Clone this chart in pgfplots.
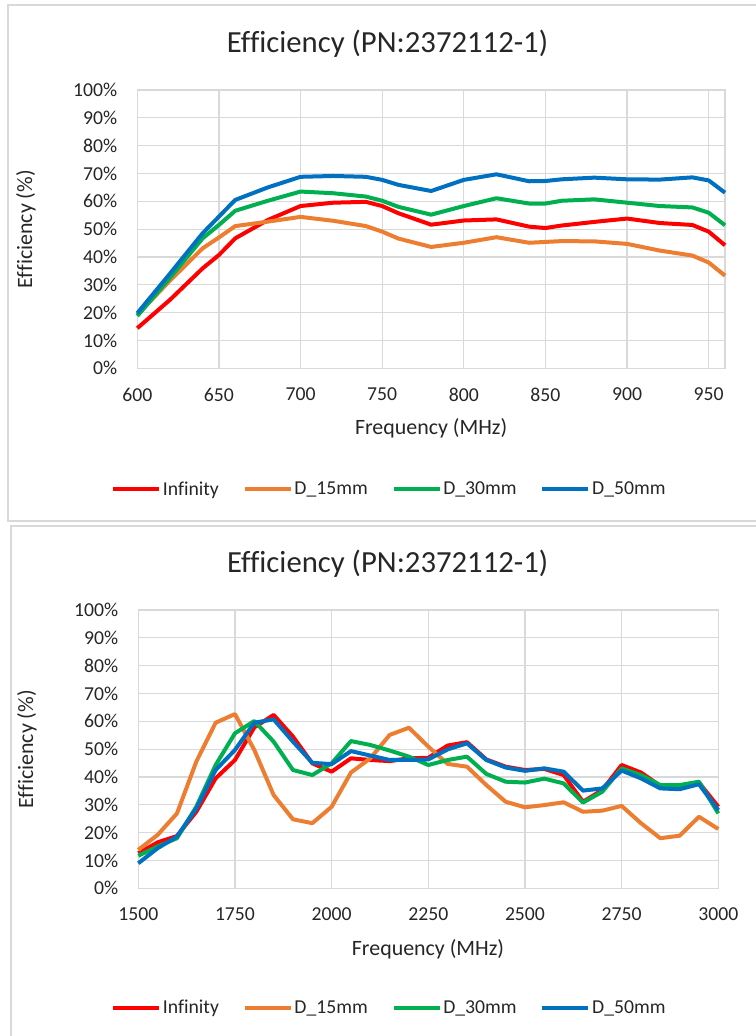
\documentclass[border=0pt]{standalone}
\usepackage{pgfplots}
\usepackage{pgfplotstable}
\pgfplotsset{compat=1.18}
\usepackage{fontspec}
\setmainfont{Carlito}[Ligatures={NoCommon}]
\definecolor{cInf}{HTML}{FF0000}
\definecolor{cDa}{HTML}{ED7D31}
\definecolor{cDb}{HTML}{00B050}
\definecolor{cDc}{HTML}{0070C0}
\definecolor{gridc}{HTML}{D9D9D9}
\definecolor{framec}{HTML}{D9D9D9}

\pgfplotstableread{
f   inf  d15  d30  d50
600 14.4 19.2 18.8 19.8
620 24.6 31.5 32.5 34.0
640 35.9 43.1 46.7 48.5
650 40.7 47.0 51.5 54.5
660 46.7 51.1 56.6 60.5
680 53.3 52.7 60.2 65.0
700 58.3 54.4 63.5 68.8
720 59.5 53.0 62.9 69.1
740 59.8 51.1 61.7 68.8
750 58.3 49.1 60.2 67.7
760 55.7 46.6 58.0 65.9
780 51.6 43.6 55.2 63.7
800 53.1 45.1 58.3 67.7
820 53.5 47.1 61.1 69.7
840 50.9 45.1 59.2 67.2
850 50.4 45.4 59.2 67.3
860 51.3 45.7 60.2 67.9
880 52.6 45.6 60.7 68.5
900 53.8 44.7 59.5 67.9
920 52.2 42.3 58.3 67.8
940 51.5 40.5 57.8 68.6
950 49.1 38.0 55.9 67.5
960 44.2 33.3 51.4 63.1
}\topdata

\pgfplotstableread{
f    inf  d15  d30  d50
1500 12.6 13.8 11.7 9.0
1550 16.5 19.2 15.0 14.4
1600 18.8 26.9 18.0 18.6
1650 27.5 45.5 29.3 28.7
1700 39.5 59.5 44.3 42.5
1750 46.1 62.6 55.7 49.7
1800 57.8 49.7 60.1 59.5
1850 62.3 33.5 52.7 60.7
1900 54.5 24.8 42.5 52.7
1950 44.9 23.4 40.7 45.1
2000 41.9 29.3 44.9 44.6
2050 46.7 41.6 52.9 49.3
2100 46.1 46.7 51.5 47.7
2150 45.7 55.1 49.5 46.1
2200 46.7 57.7 47.3 46.1
2250 46.9 50.9 44.3 46.3
2300 51.3 44.7 46.1 49.9
2350 52.5 43.7 47.3 52.1
2400 46.3 37.1 41.1 46.1
2450 43.7 31.1 38.3 43.4
2500 42.5 29.1 38.0 42.2
2550 42.9 29.9 39.4 43.1
2600 40.7 30.9 37.7 41.9
2650 31.1 27.5 30.8 35.1
2700 35.3 27.9 34.7 35.9
2750 44.3 29.6 43.1 42.3
2800 41.6 23.4 40.7 39.5
2850 36.8 18.0 37.1 35.9
2900 36.5 18.9 37.1 35.6
2950 38.0 25.7 38.3 37.4
3000 29.3 21.3 26.9 28.1
}\botdata

\pgfplotsset{effstyle/.style={
  scale only axis,
  height=278.3bp,
  ymin=0, ymax=100, ytick={0,10,...,100},
  yticklabel={\pgfmathprintnumber{\tick}\%},
  grid=major,
  major grid style={gridc, line width=1.2bp},
  axis line style={gridc, line width=1.2bp},
  major tick length=0pt,
  tick label style={font=\fontsize{19.7bp}{23bp}\selectfont, text=black!85},
  /pgf/number format/assume math mode=true,
  /pgf/number format/1000 sep={},
  xticklabel style={anchor=north, inner sep=0pt, yshift=-19.5bp},
  yticklabel style={anchor=east, inner sep=0pt, xshift=-20bp},
  label style={font=\fontsize{21.9bp}{26bp}\selectfont, text=black!85},
  every axis title shift=0pt,
  title style={font=\fontsize{30.7bp}{36bp}\selectfont, anchor=base, text=black!85, inner sep=0pt},
  xlabel style={anchor=base, inner sep=0pt},
  ylabel style={anchor=center, inner sep=0pt},
  title={Efficiency (PN:2372112-1)},
  xlabel={Frequency (MHz)},
  ylabel={Efficiency (\%)},
  clip=false,
  legend columns=4,
  legend cell align=left,
  legend style={draw=none, fill=none, anchor=center, inner sep=0pt,
    font=\fontsize{19.7bp}{23bp}\selectfont, text=black!85,
    nodes={inner xsep=2bp, inner ysep=0bp},
    /tikz/every even column/.append style={column sep=22bp}},
  legend image code/.code={\draw[#1, line width=3.5bp] (0bp,0bp) -- (46bp,0bp);},
  every axis plot/.append style={line width=4bp, line join=round, no markers},
}}

\begin{document}
\begin{tikzpicture}[x=1bp, y=1bp]
\useasboundingbox (0,0) rectangle (756,1036);
\clip (0,0) rectangle (756,1036);
\draw[framec, line width=1.7bp] (8,515) rectangle (780,1031);
\draw[framec, line width=1.7bp] (11,-20) rectangle (780,510);

\begin{axis}[effstyle,
  at={(137.3bp,667.7bp)}, anchor=south west,
  width=587.7bp,
  xmin=600, xmax=960, xtick={600,650,...,950},
  title style={at={(axis description cs:0.4257,1.133)}},
  xlabel style={at={(axis description cs:0.5,-0.2379)}},
  ylabel style={at={(axis description cs:-0.1894,0.5)}},
  legend style={at={(axis description cs:0.4290,-0.4337)}},
]
\addplot[cInf] table[x=f, y=inf] {\topdata};
\addlegendentry{Infinity}
\addplot[cDa] table[x=f, y=d15] {\topdata};
\addlegendentry{D\_15mm}
\addplot[cDb] table[x=f, y=d30] {\topdata};
\addlegendentry{D\_30mm}
\addplot[cDc] table[x=f, y=d50] {\topdata};
\addlegendentry{D\_50mm}
\end{axis}

\begin{axis}[effstyle,
  at={(138.3bp,147.7bp)}, anchor=south west,
  width=580bp,
  xmin=1500, xmax=3000, xtick={1500,1750,...,3000},
  title style={at={(axis description cs:0.4298,1.133)}},
  xlabel style={at={(axis description cs:0.4995,-0.2422)}},
  ylabel style={at={(axis description cs:-0.1919,0.5)}},
  legend style={at={(axis description cs:0.4330,-0.430)}},
]
\addplot[cInf] table[x=f, y=inf] {\botdata};
\addlegendentry{Infinity}
\addplot[cDa] table[x=f, y=d15] {\botdata};
\addlegendentry{D\_15mm}
\addplot[cDb] table[x=f, y=d30] {\botdata};
\addlegendentry{D\_30mm}
\addplot[cDc] table[x=f, y=d50] {\botdata};
\addlegendentry{D\_50mm}
\end{axis}
\end{tikzpicture}
\end{document}
